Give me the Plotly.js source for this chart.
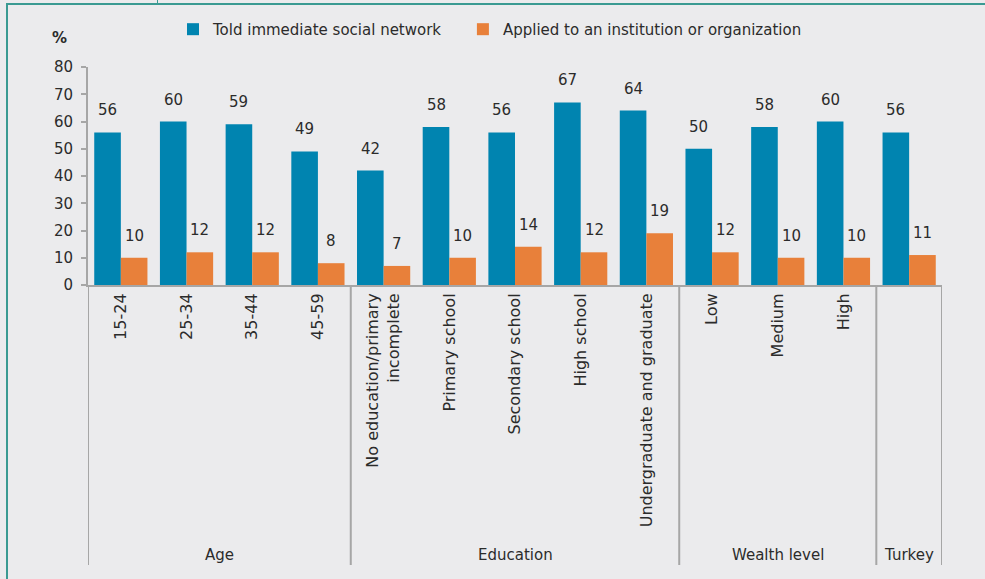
<!DOCTYPE html>
<html><head><meta charset="utf-8">
<script src="https://cdn.plot.ly/plotly-3.0.1.min.js"></script>
<style>
html,body{margin:0;padding:0;background:#f2f2f2;}
#wrap{position:relative;width:985px;height:579px;}
#chart{position:absolute;left:0;top:0;width:985px;height:579px;}
#frame{position:absolute;left:6px;top:3px;width:979px;height:576px;border-left:2px solid #3a9a92;border-top:2px solid #3a9a92;pointer-events:none;}
#tick{position:absolute;left:157px;top:0;width:1px;height:4px;background:#3a9a92;}
</style></head>
<body>
<div id="wrap"><div id="chart"></div><div id="frame"></div><div id="tick"></div></div>
<script>
var categories = ["15-24","25-34","35-44","45-59","No education/primary<br>incomplete","Primary school","Secondary school","High school","Undergraduate and graduate","Low","Medium","High",""];
var groups = ["Age","Education","Wealth level","Turkey"];
var groupSizes = [4,5,3,1];
var toldNetwork = [56,60,59,49,42,58,56,67,64,50,58,60,56];
var appliedInstitution = [10,12,12,8,7,10,14,12,19,12,10,10,11];
var seriesNames = ["Told immediate social network","Applied to an institution or organization"];
var yTicks = [0,10,20,30,40,50,60,70,80];

var blue = "#0084b0", orange = "#e8803a", txt = "#2b2b2b", axisCol = "#a6a6a6";
var font = "DejaVu Sans, sans-serif";
var idx = categories.map(function(c,i){return i;});
var bargap = 0.19;
var half = (1-bargap)/4;

var traces = [
 {type:"bar", x:idx, y:toldNetwork, name:seriesNames[0], marker:{color:blue}, legend:"legend"},
 {type:"bar", x:idx, y:appliedInstitution, name:seriesNames[1], marker:{color:orange}, legend:"legend2"}
];

var ann = [];
idx.forEach(function(i){
  ann.push({x:i-half, y:toldNetwork[i], xref:"x", yref:"y", text:String(toldNetwork[i]), showarrow:false, yshift:22, font:{size:15,color:txt,family:font}});
  ann.push({x:i+half, y:appliedInstitution[i], xref:"x", yref:"y", text:String(appliedInstitution[i]), showarrow:false, yshift:22, font:{size:15,color:txt,family:font}});
});
var shapes = [];
var start = -0.5;
shapes.push({type:"line", xref:"x", yref:"paper", x0:start, x1:start, y0:0, y1:-1.284, line:{color:axisCol,width:2}});
groups.forEach(function(g,k){
  var end = start + groupSizes[k];
  shapes.push({type:"line", xref:"x", yref:"paper", x0:end, x1:end, y0:0, y1:-1.284, line:{color:axisCol,width:2}});
  ann.push({x:(start+end)/2, y:-1.239, xref:"x", yref:"paper", text:g, showarrow:false, yanchor:"middle", font:{size:15,color:txt,family:font}});
  start = end;
});
ann.push({x:-0.033, y:1.133, xref:"paper", yref:"paper", xanchor:"center", yanchor:"middle", text:"<b>%</b>", showarrow:false, font:{size:15,color:txt,family:font}});

var legFont = {size:15,color:txt,family:font};
var layout = {
  width:985, height:579,
  paper_bgcolor:"#ebebed", plot_bgcolor:"#ebebed",
  margin:{l:88, r:43, t:67, b:294},
  barmode:"group", bargap:bargap, bargroupgap:0,
  font:{family:font, size:15, color:txt},
  showlegend:true,
  legend:{orientation:"h", x:0.0995, y:1.248, xanchor:"left", yanchor:"top", font:legFont, bgcolor:"rgba(0,0,0,0)"},
  legend2:{orientation:"h", x:0.439, y:1.248, xanchor:"left", yanchor:"top", font:legFont, bgcolor:"rgba(0,0,0,0)"},
  xaxis:{type:"linear", range:[-0.5, categories.length-0.5], tickmode:"array", tickvals:idx, ticktext:categories, tickangle:-90, ticks:"", showline:true, linecolor:axisCol, linewidth:2, showgrid:false, zeroline:false, tickfont:{size:16,color:txt,family:font}},
  yaxis:{range:[0,80], tickmode:"array", tickvals:yTicks, ticks:"outside", ticklen:5, tickcolor:axisCol, tickwidth:2, ticklabelstandoff:5, showline:true, linecolor:axisCol, linewidth:2, showgrid:false, zeroline:false, tickfont:{size:15,color:txt,family:font}},
  annotations:ann, shapes:shapes
};
Plotly.newPlot("chart", traces, layout, {displayModeBar:false, staticPlot:true});
</script>
</body></html>
